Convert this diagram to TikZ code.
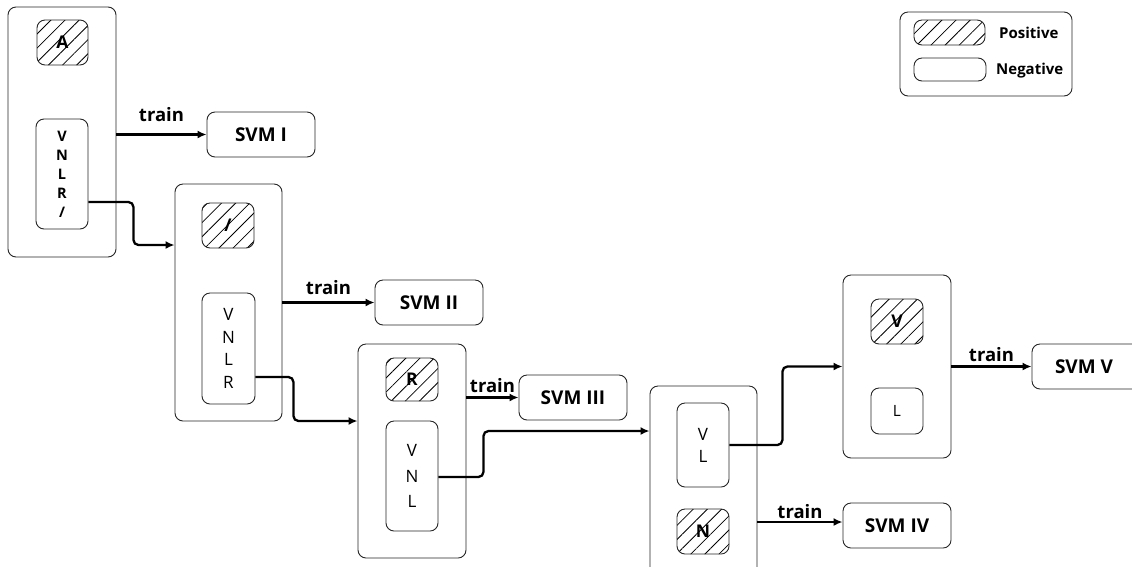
\documentclass[tikz,border=0pt]{standalone}
\usepackage{fontspec}
\setmainfont{Open Sans}
\usetikzlibrary{patterns.meta,arrows.meta}
\tikzset{
  grp/.style={draw=black!85, line width=0.9pt, rounded corners=8pt, inner sep=0pt},
  posbox/.style={draw=black!85, line width=0.9pt, rounded corners=8pt, inner sep=0pt,
    pattern={Lines[angle=45,distance=10pt,line width=0.8pt]},
    font=\bfseries\fontsize{17.5}{17.5}\selectfont},
  negbox/.style={draw=black!85, line width=0.9pt, rounded corners=8pt, inner sep=0pt, fill=white, align=center},
  svmbox/.style={draw=black!85, line width=0.9pt, rounded corners=8pt, inner sep=0pt,
    minimum width=108pt, minimum height=45pt, font=\bfseries\fontsize{19}{19}\selectfont},
  arr/.style={-{Latex[length=9pt,width=8pt]}, line width=2.3pt},
  conn/.style={arr, rounded corners=5pt},
  lbl/.style={font=\bfseries\fontsize{18.5}{18.5}\selectfont, inner sep=0pt},
  leg/.style={font=\bfseries\fontsize{15}{15}\selectfont, inner sep=0pt}
}
\begin{document}
\begin{tikzpicture}[x=1pt,y=-1pt]
\useasboundingbox[fill=white] (0,0) rectangle (1132,566);
\clip (0,0) rectangle (1132,566);

% group 1
\node[grp, minimum width=108pt, minimum height=250pt] (box1) at (62,132) {};
\node[posbox, minimum width=51pt, minimum height=45pt] (p1) at (62.5,42.5) {A};
\node[negbox, minimum width=52pt, minimum height=110pt,
  font=\bfseries\fontsize{14.5}{19}\selectfont] (n1) at (62,174) {V\\N\\L\\R\\/};
\node[svmbox] (svm1) at (261,134.5) {SVM I};

% group 2
\node[grp, minimum width=107pt, minimum height=237pt] (box2) at (228.5,302.5) {};
\node[posbox, minimum width=52pt, minimum height=45pt] (p2) at (228,225.5) {/};
\node[negbox, minimum width=53pt, minimum height=111pt,
  font=\fontsize{17}{22.5}\selectfont] (n2) at (228.5,348.5) {V\\N\\L\\R};
\node[svmbox] (svm2) at (429,302.5) {SVM II};

% group 3
\node[grp, minimum width=108pt, minimum height=214pt] (box3) at (412,451) {};
\node[posbox, minimum width=52pt, minimum height=43pt] (p3) at (412,379.5) {R};
\node[negbox, minimum width=52pt, minimum height=110pt,
  font=\fontsize{17}{25.5}\selectfont] (n3) at (412,476) {V\\N\\L};
\node[svmbox] (svm3) at (573,397.5) {SVM III};

% group 4
\node[grp, minimum width=107pt, minimum height=189pt] (box4) at (703.5,480.5) {};
\node[negbox, minimum width=52pt, minimum height=84pt,
  font=\fontsize{17}{22}\selectfont] (n4) at (703,445) {V\\L};
\node[posbox, minimum width=52pt, minimum height=45pt] (p4) at (703,531.5) {N};
\node[svmbox] (svm4) at (897,525.5) {SVM IV};

% group 5
\node[grp, minimum width=108pt, minimum height=183pt] (box5) at (897,366.5) {};
\node[posbox, minimum width=52pt, minimum height=45pt] (p5) at (897,321.5) {V};
\node[negbox, minimum width=52pt, minimum height=46pt,
  font=\fontsize{15.5}{15.5}\selectfont] (n5) at (897,411) {L};
\node[svmbox, minimum width=110pt] (svm5) at (1087,366.5) {\hspace*{-6pt}SVM V};

% legend
\node[grp, minimum width=172pt, minimum height=84pt] (legend) at (986,54) {};
\node[posbox, minimum width=71pt, minimum height=25pt] (lp) at (949.5,32.5) {};
\node[negbox, minimum width=72pt, minimum height=23pt] (ln) at (950,69.5) {};
\node[leg, anchor=west] (lpt) at (999,33) {Positive};
\node[leg, anchor=west] (lnt) at (996,71) {Negative};

% train arrows
\draw[arr] (box1.east |- svm1.west) -- node[lbl, above=12pt] {train} (svm1.west);
\draw[arr] (box2.east |- svm2.west) -- node[lbl, above=7pt] {train} (svm2.west);
\draw[arr] (box3.east |- svm3.west) -- node[lbl, above=4pt] {train} (svm3.west);
\draw[arr] ([yshift=3.5pt]box4.east |- svm4.west) -- node[lbl, above=2pt] {train} ([yshift=3.5pt]svm4.west);
\draw[arr] (box5.east |- svm5.west) -- node[lbl, above=4pt] {train} (svm5.west);

% connectors between groups
\draw[conn] ([yshift=-28pt]n1.east) -- ++(45,0) |- ([yshift=57.5pt]box2.west);
\draw[conn] ([yshift=-28.5pt]n2.east) -- ++(38,0) |- ([yshift=30pt]box3.west);
\draw[conn] ([yshift=-1pt]n3.east) -- ++(45,0) |- ([yshift=49.5pt]box4.west);
\draw[conn] (n4.east) -- ++(53,0) |- (box5.west);
\end{tikzpicture}
\end{document}
